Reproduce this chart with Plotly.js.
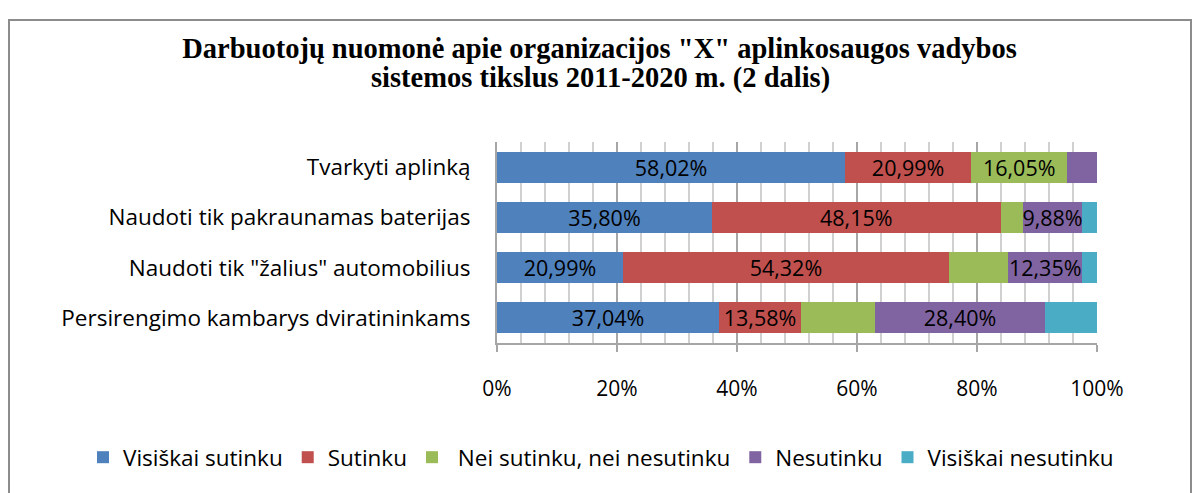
<!DOCTYPE html>
<html>
<head>
<meta charset="utf-8">
<script src="https://cdn.plot.ly/plotly-3.0.1.min.js"></script>
<style>
  html, body { margin: 0; padding: 0; background: #fff; }
  #chart { width: 1199px; height: 493px; position: relative; }
  #frame { position: absolute; left: 8px; top: 19px; width: 1180px; height: 480px; border: 2px solid #8c8c8c; pointer-events: none; }
</style>
</head>
<body>
<div id="chart"></div>
<div id="frame"></div>
<script>
const categories = [
  'Persirengimo kambarys dviratininkams',
  'Naudoti tik "žalius" automobilius',
  'Naudoti tik pakraunamas baterijas',
  'Tvarkyti aplinką'
];
const seriesNames = ['Visiškai sutinku', 'Sutinku', ' Nei sutinku, nei nesutinku', 'Nesutinku', 'Visiškai nesutinku'];
const visiskaiSutinku   = [37.04, 20.99, 35.80, 58.02];
const sutinku           = [13.58, 54.32, 48.15, 20.99];
const neiSutinku        = [12.35,  9.88,  3.70, 16.05];
const nesutinku         = [28.40, 12.35,  9.88,  4.94];
const visiskaiNesutinku = [ 8.64,  2.47,  2.47,  0.00];
// which segments carry a data label
const showLabel = [
  [true, true, true, true],
  [true, true, true, true],
  [false, false, false, true],
  [true, true, true, false],
  [false, false, false, false]
];
const xTickVals = [0, 0.2, 0.4, 0.6, 0.8, 1];
const xTickText = ['0%', '20%', '40%', '60%', '80%', '100%'];
const titleLine1 = 'Darbuotojų nuomonė apie organizacijos "X" aplinkosaugos vadybos';
const titleLine2 = 'sistemos tikslus 2011-2020 m. (2 dalis)';
const colors = ['#4F81BD', '#C0504D', '#9BBB59', '#8064A2', '#4BACC6'];
const allSeries = [visiskaiSutinku, sutinku, neiSutinku, nesutinku, visiskaiNesutinku];

const fmt = v => v.toFixed(2).replace('.', ',') + '%';
const FONT = '"Open Sans", Lato, sans-serif';
const TFONT = { family: '"Liberation Serif", "Times New Roman", serif', size: 28.5, color: '#000', weight: 'bold' };

const traces = allSeries.map((vals, i) => ({
  type: 'bar',
  orientation: 'h',
  name: seriesNames[i],
  y: categories,
  x: vals.map(v => v / 100),
  marker: { color: colors[i], line: { width: 0 } },
  text: vals.map((v, j) => showLabel[i][j] ? fmt(v) : ''),
  textposition: 'inside',
  insidetextanchor: 'middle',
  textfont: { family: FONT, size: 21.5, color: '#000' },
  constraintext: 'none',
  hoverinfo: 'name+x'
}));

const layout = {
  width: 1199,
  height: 493,
  barmode: 'stack',
  bargap: 0.38,
  paper_bgcolor: '#fff',
  plot_bgcolor: '#fff',
  margin: { l: 497, r: 102, t: 142, b: 150 },
  title: {
    text: titleLine1,
    font: TFONT,
    x: 0.5, xanchor: 'center', xref: 'container',
    y: 1 - 48 / 493, yanchor: 'middle', yref: 'container'
  },
  annotations: [{
    text: titleLine2,
    font: TFONT,
    xref: 'paper', yref: 'paper',
    x: (600 - 497) / 600, y: 1 + (142 - 78) / 201,
    xanchor: 'center', yanchor: 'middle',
    showarrow: false
  }],
  xaxis: {
    range: [0, 1],
    tickvals: xTickVals,
    ticktext: xTickText,
    tickfont: { family: FONT, size: 21, color: '#000' },
    ticklabelstandoff: 19,
    ticks: 'outside',
    ticklen: 7,
    tickcolor: '#a6a6a6',
    tickwidth: 2,
    showgrid: true,
    gridcolor: '#a6a6a6',
    gridwidth: 2,
    minor: { dtick: 0.04, showgrid: true, gridcolor: '#d0d0d0', gridwidth: 2 },
    zeroline: false,
    showline: true,
    linecolor: '#a6a6a6',
    linewidth: 2,
    fixedrange: true
  },
  yaxis: {
    tickfont: { family: FONT, size: 22.5, color: '#000' },
    ticklabelstandoff: 20,
    showline: true,
    linecolor: '#a6a6a6',
    linewidth: 2,
    showgrid: false,
    ticks: '',
    fixedrange: true
  },
  legend: {
    orientation: 'h',
    x: -0.69, xanchor: 'left',
    y: -0.57, yanchor: 'middle',
    font: { family: FONT, size: 22.5, color: '#000' },
    traceorder: 'normal',
    itemwidth: 30
  },
  showlegend: true
};

Plotly.newPlot('chart', traces, layout, { displayModeBar: false });
</script>
</body>
</html>
